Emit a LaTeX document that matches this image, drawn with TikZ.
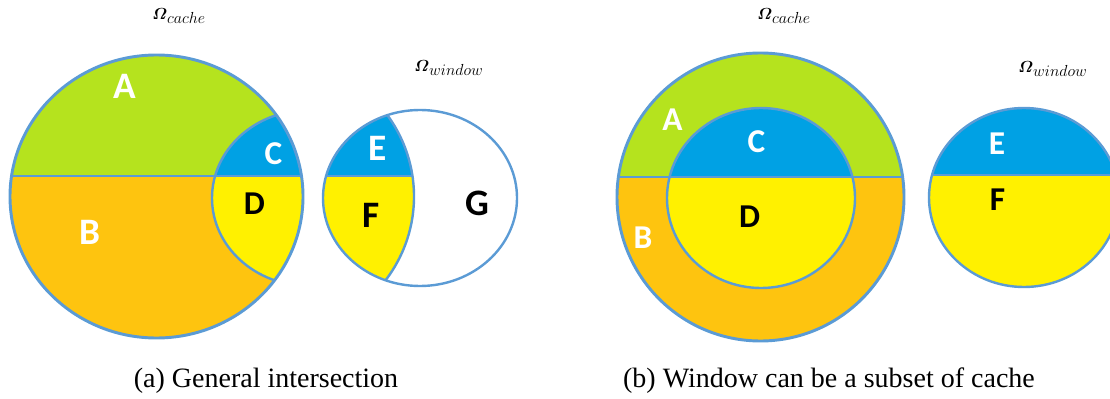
\documentclass[tikz,border=0pt]{standalone}
\usepackage{amsmath}
\usepackage{fontspec}
\newfontfamily\letterfont{Carlito}
\newfontfamily\captionfont{Liberation Serif}

\definecolor{cgreen}{RGB}{181,227,30}
\definecolor{corange}{RGB}{254,196,15}
\definecolor{cblue}{RGB}{0,161,228}
\definecolor{cyellow}{RGB}{255,241,0}
\definecolor{edgeblue}{RGB}{91,155,213}

% bold italic Omega with an italic subscript name
\newcommand\omegaset[1]{%
  {\fontsize{12.5}{14}\selectfont$\boldsymbol{\varOmega}$}%
  \raisebox{-3pt}{\fontsize{11.5}{13}\selectfont$#1$}}

\tikzset{
  outline/.style={draw=edgeblue, line width=2.2pt},
  thinline/.style={draw=edgeblue, line width=1.8pt},
  biglabel/.style={inner sep=0pt, font=\letterfont\bfseries\fontsize{28}{28}\selectfont},
  smalllabel/.style={inner sep=0pt, font=\letterfont\bfseries\fontsize{25}{25}\selectfont},
  setname/.style={inner sep=0pt, anchor=base west},
  subcaption/.style={inner sep=0pt, anchor=base, font=\captionfont\fontsize{21}{24}\selectfont}
}

% shapes of part (a)
\def\cacheL{(156.5,196.5) ellipse [x radius=146.5, y radius=141.5]}
\def\winL{(420,198) ellipse [x radius=97, y radius=88]}
\def\winLshift{(309,198) ellipse [x radius=97, y radius=88]}
\def\cacheLshift{(267.5,196.5) ellipse [x radius=146.5, y radius=141.5]}
% shapes of part (b)
\def\cacheR{(760.5,197) ellipse [x radius=143.5, y radius=144]}
\def\winRin{(761,198) ellipse [x radius=94, y radius=90]}
\def\winR{(1024,197.5) ellipse [x radius=95, y radius=89.5]}

\begin{document}
\begin{tikzpicture}[x=0.75pt,y=-0.75pt]
\useasboundingbox (0,0) rectangle (1110,399);
\clip (0,0) rectangle (1110,399);

% ---------- (a) cache set ----------
\begin{scope}
  \clip \cacheL;
  \fill[cgreen] (0,0) rectangle (320,176);
  \fill[corange] (0,176) rectangle (320,399);
  \clip \winLshift;
  \fill[cblue] (0,0) rectangle (320,176);
  \fill[cyellow] (0,176) rectangle (320,399);
\end{scope}
\begin{scope}
  \clip \cacheL;
  \draw[thinline] \winLshift;
  \draw[outline] (0,176) -- (320,176);
\end{scope}
\draw[outline] \cacheL;

% ---------- (a) window set ----------
\begin{scope}
  \clip \winL;
  \clip \cacheLshift;
  \fill[cblue] (300,0) rectangle (540,176);
  \fill[cyellow] (300,176) rectangle (540,399);
  \draw[outline] (300,176) -- (540,176);
\end{scope}
\begin{scope}
  \clip \winL;
  \draw[thinline] \cacheLshift;
\end{scope}
\draw[thinline] \winL;

% ---------- (b) cache set with window inside ----------
\begin{scope}
  \clip \cacheR;
  \fill[cgreen] (600,0) rectangle (920,177);
  \fill[corange] (600,177) rectangle (920,399);
  \clip \winRin;
  \fill[cblue] (600,0) rectangle (920,177);
  \fill[cyellow] (600,177) rectangle (920,399);
\end{scope}
\begin{scope}
  \clip \cacheR;
  \draw[outline] (600,177) -- (920,177);
\end{scope}
\draw[thinline] \winRin;
\draw[outline] \cacheR;

% ---------- (b) window set ----------
\begin{scope}
  \clip \winR;
  \fill[cblue] (920,0) rectangle (1130,175);
  \fill[cyellow] (920,175) rectangle (1130,399);
  \draw[outline] (920,175) -- (1130,175);
\end{scope}
\draw[thinline] \winR;

% ---------- region letters ----------
\node[biglabel, text=white] (la) at (124.5,86) {A};
\node[biglabel, text=white] (lb) at (89.5,232.5) {B};
\node[smalllabel, text=white] (lc) at (273.5,154) {C};
\node[smalllabel, text=black] (ld) at (254.5,204) {D};
\node[biglabel, text=white] (le) at (378,148.5) {E};
\node[biglabel, text=black] (lf) at (371.5,215.5) {F};
\node[biglabel, text=black] (lg) at (477,203.5) {G};

\node[smalllabel, text=white] (ra) at (672.5,120) {A};
\node[smalllabel, text=white] (rb) at (643,237.5) {B};
\node[smalllabel, text=white] (rc) at (756.5,141.5) {C};
\node[smalllabel, text=black] (rd) at (749.5,217) {D};
\node[smalllabel, text=white] (re) at (997,144) {E};
\node[smalllabel, text=black] (rf) at (997.5,199.5) {F};

% ---------- set names ----------
\node[setname] (omcl) at (152,20) {\omegaset{cache}};
\node[setname] (omwl) at (414,72) {\omegaset{window}};
\node[setname] (omcr) at (757,20) {\omegaset{cache}};
\node[setname] (omwr) at (1018,73) {\omegaset{window}};

% ---------- captions ----------
\node[subcaption] (capa) at (266,387) {(a) General intersection};
\node[subcaption] (capb) at (829,387) {(b) Window can be a subset of cache};
\end{tikzpicture}
\end{document}
